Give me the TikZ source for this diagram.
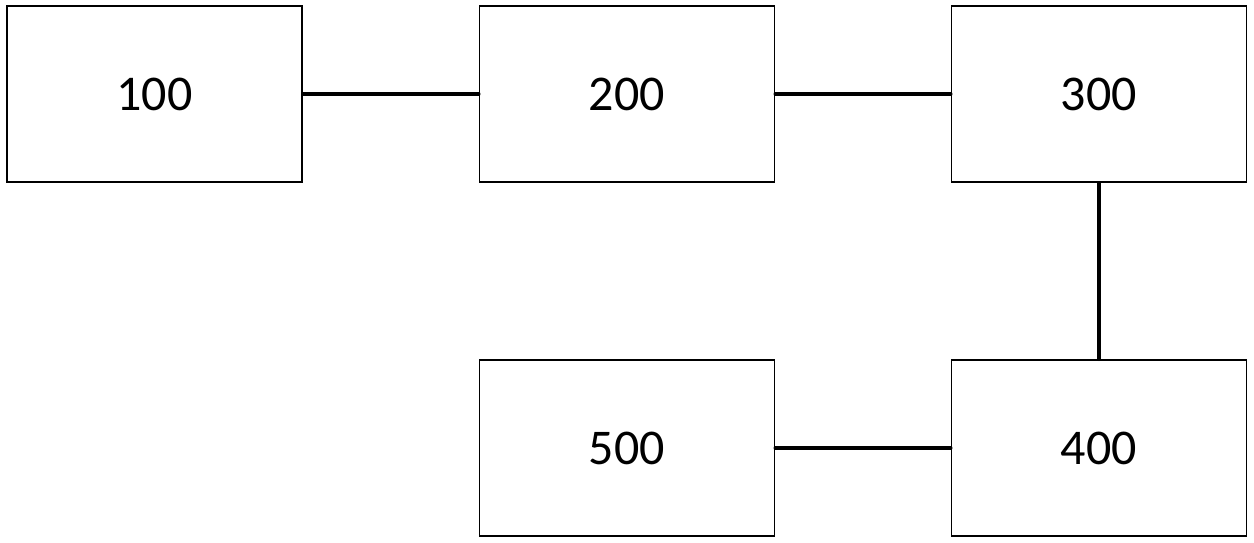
\documentclass[tikz,border=0pt]{standalone}
\usepackage{fontspec}
\setmainfont{Carlito}
\begin{document}
\begin{tikzpicture}[x=1pt,y=-1pt,
  blk/.style={draw=black,line width=1.5pt,minimum width=295pt,minimum height=176pt,inner sep=0pt,font=\fontsize{50}{60}\selectfont},
  wire/.style={line width=3.5pt,line cap=round}]
\useasboundingbox (0,0) rectangle (1254,542);
\node[blk] (a) at (154.5,94) {100};
\node[blk] (b) at (627,94) {200};
\node[blk] (c) at (1099,94) {300};
\node[blk] (e) at (627,448) {500};
\node[blk] (d) at (1099,448) {400};
\draw[wire] (a.east) -- (b.west);
\draw[wire] (b.east) -- (c.west);
\draw[wire] (c.south) -- (d.north);
\draw[wire] (d.west) -- (e.east);
\end{tikzpicture}
\end{document}
